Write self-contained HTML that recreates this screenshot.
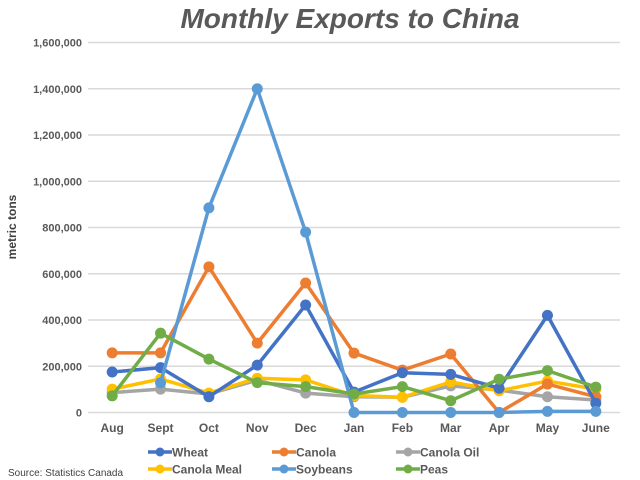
<!DOCTYPE html>
<html><head><meta charset="utf-8"><style>
body{margin:0;background:#fff;}
svg{display:block;font-family:"Liberation Sans",sans-serif;}
</style></head><body>
<svg id="chart" width="640" height="480">
<text x="350" y="28" text-anchor="middle" font-size="28" font-weight="bold" font-style="italic" fill="#595959">Monthly Exports to China</text>
<text transform="translate(16,227) rotate(-90)" text-anchor="middle" font-size="12" font-weight="bold" fill="#404040">metric tons</text>
<text x="8" y="476" font-size="10" fill="#404040">Source: Statistics Canada</text>
<g id="grid"></g><g id="series"></g><g id="legend"></g>
</svg>
<script>
const categories=["Aug","Sept","Oct","Nov","Dec","Jan","Feb","Mar","Apr","May","June"];
const yTicks=[0,200000,400000,600000,800000,1000000,1200000,1400000,1600000];
const seriesNames=["Wheat","Canola","Canola Oil","Canola Meal","Soybeans","Peas"];
const seriesColors=["#4472c4","#ed7d31","#a5a5a5","#ffc000","#5b9bd5","#70ad47"];
const wheat=[175000,194000,68000,205000,465000,88000,172000,165000,105000,420000,40000];
const canola=[258000,258000,630000,300000,560000,257000,183000,253000,0,123000,68000];
const canolaOil=[86000,101000,80000,140000,84000,68000,66000,115000,97000,68000,54000];
const canolaMeal=[101000,145000,84000,148000,141000,73000,66000,132000,94000,136000,101000];
const soybeans=[null,128000,885000,1400000,780000,0,0,0,0,5000,5000];
const peas=[72000,343000,231000,129000,112000,80000,112000,51000,144000,181000,110000];
const drawOrder=[canolaOil,canolaMeal,canola,wheat,soybeans,peas];
const drawIdx=[2,3,1,0,4,5];
const NS="http://www.w3.org/2000/svg";
const x0=88,x1=620,yb=412.5,yt=42.5;
function xs(i){return x0+(x1-x0)*(i+0.5)/categories.length;}
function ys(v){return yb-(yb-yt)*v/1600000;}
function mk(tag,attrs,parent){const e=document.createElementNS(NS,tag);for(const k in attrs)e.setAttribute(k,attrs[k]);parent.appendChild(e);return e;}
const grid=document.getElementById('grid');
yTicks.forEach(t=>{
  const l=mk('line',{x1:x0,x2:x1,y1:ys(t),y2:ys(t),stroke:'#d9d9d9','stroke-width':1.5},grid);
  
  
  const tx=mk('text',{x:82,y:ys(t)+4,'text-anchor':'end','font-size':11,'font-weight':'bold',fill:'#595959'},grid);
  tx.textContent=t.toLocaleString('en-US');
  
  
});
categories.forEach((c,i)=>{
  const tx=mk('text',{x:xs(i),y:432,'text-anchor':'middle','font-size':12,'font-weight':'bold',fill:'#595959'},grid);
  tx.textContent=c;
  
  
});
const sg=document.getElementById('series');
drawOrder.forEach((data,k)=>{
  const si=drawIdx[k],col=seriesColors[si];
  const g=mk('g',{},sg);
  
  
  let d='';
  data.forEach((v,i)=>{if(v===null)return;d+=(d?'L':'M')+xs(i)+','+ys(v);});
  mk('path',{d:d,fill:'none',stroke:col,'stroke-width':3.5,'stroke-linejoin':'round'},g);
  data.forEach((v,i)=>{if(v===null)return;
    const c=mk('circle',{cx:xs(i),cy:ys(v),r:5.5,fill:col},g);
    
    
  });
});
const lg=document.getElementById('legend');
const lx=[148,272,396],ly=[452,469];
seriesNames.forEach((n,i)=>{
  const x=lx[i%3],y=ly[Math.floor(i/3)];
  const g=mk('g',{},lg);
  
  
  mk('line',{x1:x,x2:x+24,y1:y,y2:y,stroke:seriesColors[i],'stroke-width':3.5},g);
  mk('circle',{cx:x+12,cy:y,r:4.5,fill:seriesColors[i]},g);
  const t=mk('text',{x:x+24,y:y+4.5,'font-size':12,'font-weight':'bold',fill:'#595959'},g);
  t.textContent=n;
});
</script>
</body></html>
